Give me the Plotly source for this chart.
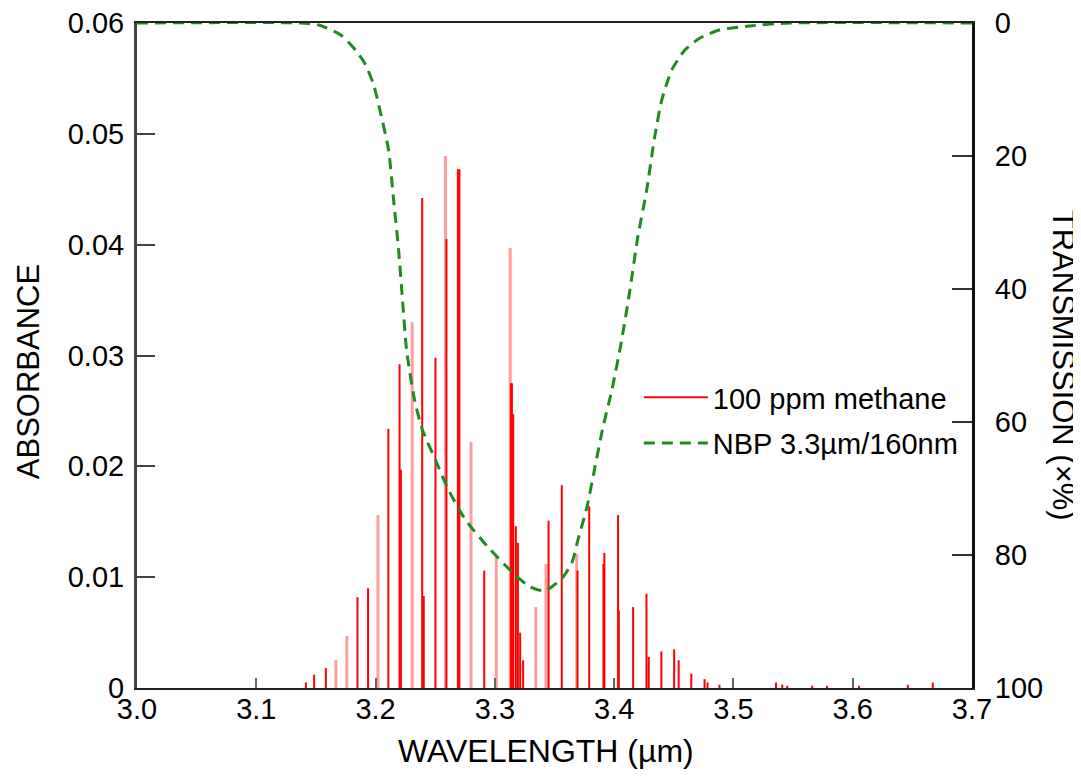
import plotly.graph_objects as go

# ---- data ----
strong_wl = [3.1416, 3.1485, 3.1583, 3.1848, 3.1937, 3.2107, 3.2201, 3.2212, 3.2391, 3.2404,
             3.2502, 3.2594, 3.2690, 3.2703, 3.2911, 3.3135, 3.3143, 3.3154, 3.3176, 3.3193,
             3.3212, 3.3237, 3.3450, 3.3561, 3.3693, 3.3791, 3.3910, 3.3918, 3.4033, 3.4039,
             3.4159, 3.4271, 3.4290, 3.4396, 3.4503, 3.4541, 3.4647, 3.4758, 3.4783, 3.4883,
             3.5357, 3.5409, 3.5451, 3.5660, 3.5785, 3.6053, 3.6462, 3.6671]
strong_abs = [0.0005, 0.0012, 0.0018, 0.0082, 0.0090, 0.0234, 0.0292, 0.0197, 0.0442, 0.0083,
              0.0298, 0.0405, 0.0468, 0.0468, 0.0106, 0.0275, 0.0275, 0.0247, 0.0146, 0.0131,
              0.0050, 0.0025, 0.0151, 0.0183, 0.0106, 0.0164, 0.0112, 0.0122, 0.0156, 0.0070,
              0.0073, 0.0085, 0.0028, 0.0033, 0.0035, 0.0025, 0.0013, 0.0008, 0.0005, 0.0003,
              0.0005, 0.0003, 0.0002, 0.0002, 0.0002, 0.0002, 0.0003, 0.0005]

light_wl = [3.1667, 3.1759, 3.2020, 3.2307, 3.2586, 3.2800, 3.3012, 3.3129, 3.3343, 3.3429, 3.3686]
light_abs = [0.0025, 0.0047, 0.0156, 0.0330, 0.0480, 0.0222, 0.0120, 0.0397, 0.0073, 0.0112, 0.0121]

filter_wl = [3.000, 3.137, 3.1525, 3.1708, 3.1834, 3.1917, 3.1984, 3.2026, 3.2109, 3.2151,
             3.2193, 3.2226, 3.2260, 3.2327, 3.2393, 3.2502, 3.2611, 3.2753, 3.2962, 3.3170,
             3.3296, 3.3421, 3.3572, 3.3647, 3.3697, 3.3772, 3.3839, 3.3906, 3.3981, 3.4062,
             3.4131, 3.4198, 3.4271, 3.4340, 3.4399, 3.4482, 3.4591, 3.4716, 3.4883, 3.5134,
             3.5468, 3.700]
filter_T = [0, 0, 0.3, 1.8, 4.1, 6.3, 9.3, 12.3, 19.1, 26.6,
            34.1, 41.7, 49.2, 56.7, 61.2, 65.7, 70.2, 74.7, 79.2, 83.0,
            84.8, 85.4, 83.3, 81.1, 77.7, 72.8, 66.8, 60.8, 55.2, 47.8,
            40.3, 32.2, 25.3, 17.1, 11.6, 7.1, 4.1, 2.3, 1.05, 0.45,
            0, 0]

x_ticks = [3.0, 3.1, 3.2, 3.3, 3.4, 3.5, 3.6, 3.7]
x_labels = ["3.0", "3.1", "3.2", "3.3", "3.4", "3.5", "3.6", "3.7"]
abs_ticks = [0, 0.01, 0.02, 0.03, 0.04, 0.05, 0.06]
abs_labels = ["0", "0.01", "0.02", "0.03", "0.04", "0.05", "0.06"]
trans_ticks = [0, 20, 40, 60, 80, 100]


def sticks(wls, vals):
    xs, ys = [], []
    for w, v in zip(wls, vals):
        xs += [w, w, None]
        ys += [0, v, None]
    return xs, ys


FONT = "Liberation Sans, Arial, sans-serif"
fig = go.Figure()

lx, ly = sticks(light_wl, light_abs)
fig.add_trace(go.Scatter(x=lx, y=ly, mode="lines", showlegend=False,
                         line=dict(color="rgba(255,60,60,0.5)", width=3), hoverinfo="skip"))
sx, sy = sticks(strong_wl, strong_abs)
fig.add_trace(go.Scatter(x=sx, y=sy, mode="lines", name="100 ppm methane",
                         legendgroup="a", line=dict(color="#ff0000", width=2)))
fig.add_trace(go.Scatter(x=filter_wl, y=filter_T, mode="lines", name="NBP 3.3µm/160nm",
                         legendgroup="b", yaxis="y2",
                         line=dict(color="#1f8a1f", width=3, dash="11px,7px",
                                   shape="spline", smoothing=0.6)))

fig.update_layout(
    width=1073, height=771,
    margin=dict(l=129, r=109, t=15, b=91, autoexpand=False),
    paper_bgcolor="white", plot_bgcolor="white",
    font=dict(family=FONT, size=29, color="#000"),
    xaxis=dict(range=[3.0, 3.7], tickvals=x_ticks, ticktext=x_labels,
               ticks="inside", ticklen=10, tickwidth=2, tickcolor="#666",
               showline=True, linecolor="#222", linewidth=2, mirror=True,
               showgrid=False, zeroline=False, ticklabelstandoff=-6,
               ticklabeloverflow="allow", automargin=False),
    yaxis=dict(range=[0, 0.06], tickvals=abs_ticks, ticktext=abs_labels,
               ticks="inside", ticklen=18, tickwidth=2, tickcolor="#444",
               showline=True, linecolor="#444", linewidth=3,
               showgrid=False, zeroline=False, ticklabelstandoff=4,
               ticklabeloverflow="allow", automargin=False),
    yaxis2=dict(range=[100, 0], tickvals=trans_ticks, overlaying="y", side="right",
                ticks="inside", ticklen=20, tickwidth=2, tickcolor="#333",
                showline=True, linecolor="#111", linewidth=3,
                showgrid=False, zeroline=False, ticklabelstandoff=14,
                ticklabeloverflow="allow", automargin=False),
    legend=dict(x=0.601, y=(688 - 372) / 665, xanchor="left", yanchor="top",
                bgcolor="rgba(0,0,0,0)", font=dict(size=29, family=FONT),
                itemwidth=64, tracegroupgap=5),
    annotations=[
        dict(text="ABSORBANCE", x=-0.1305, y=0.475, xref="paper", yref="paper",
             xanchor="center", yanchor="middle",
             textangle=-90, showarrow=False, font=dict(size=31)),
        dict(text="TRANSMISSION (×%)", x=1.109, y=0.486, xref="paper", yref="paper",
             xanchor="center", yanchor="middle",
             textangle=90, showarrow=False, font=dict(size=31)),
        dict(text="WAVELENGTH (µm)", x=0.49, y=-0.094, xref="paper", yref="paper",
             xanchor="center", yanchor="middle",
             showarrow=False, font=dict(size=32)),
    ],
)

fig.write_html("out.html")
